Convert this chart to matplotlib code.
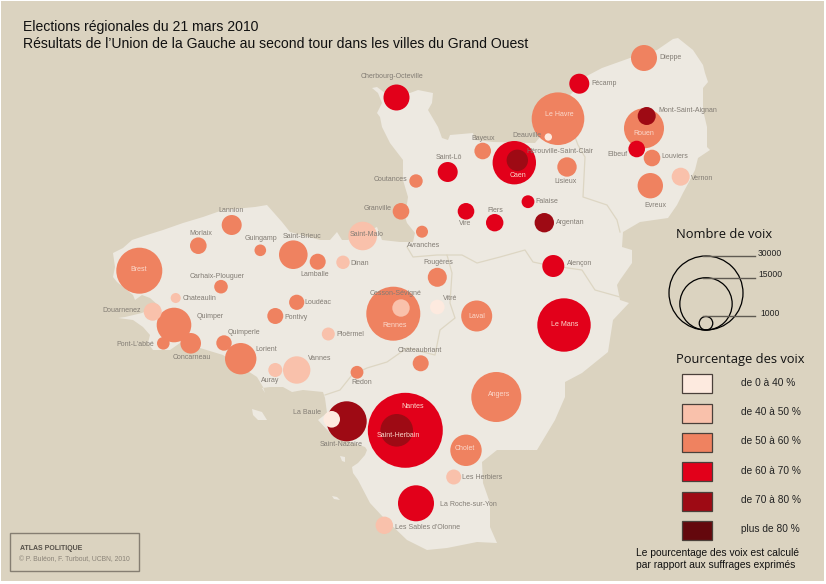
# Elections regionales 2010 - Grand Ouest
import numpy as np
import matplotlib
matplotlib.use('Agg')
import matplotlib.pyplot as plt
from matplotlib.patches import Circle, Polygon, Rectangle

plt.rcParams['font.family'] = ['Liberation Sans', 'DejaVu Sans']

# map coordinates are image pixels
cote_x = [583, 602, 630, 657, 673, 678, 693, 703, 705, 708, 703, 703, 707, 707, 710, 698, 695, 690, 683, 677, 668, 640, 623, 622, 632, 632, 620, 617, 620, 629, 613, 608, 582, 565, 565, 555, 543, 537, 497, 482, 483, 490, 490, 497, 477, 447, 427, 407, 383, 370, 358, 353, 352, 358, 365, 367, 365, 345, 330, 318, 327, 325, 323, 303, 292, 283, 270, 262, 265, 263, 257, 223, 200, 180, 170, 153, 148, 150, 143, 133, 118, 125, 142, 158, 150, 142, 135, 133, 117, 113, 115, 113, 123, 132, 147, 163, 183, 203, 223, 255, 267, 282, 290, 320, 330, 337, 342, 348, 377, 382, 400, 413, 415, 407, 405, 408, 403, 403, 390, 382, 380, 377, 382, 378, 372, 377, 385, 410, 418, 433, 432, 428, 438, 442, 448, 450, 473, 475, 493, 535, 550, 565, 575]
cote_y = [78, 68, 58, 50, 39, 38, 50, 65, 73, 82, 88, 110, 127, 147, 150, 158, 170, 180, 193, 205, 218, 222, 232, 247, 250, 263, 280, 285, 300, 303, 320, 352, 373, 382, 397, 420, 440, 450, 450, 462, 483, 503, 527, 543, 542, 548, 550, 540, 517, 503, 480, 473, 467, 463, 455, 450, 447, 440, 433, 420, 413, 398, 392, 390, 392, 387, 387, 388, 393, 387, 377, 355, 348, 343, 350, 350, 343, 335, 327, 320, 318, 317, 313, 305, 298, 295, 300, 295, 282, 277, 267, 253, 248, 240, 235, 230, 223, 217, 210, 207, 205, 222, 232, 240, 240, 232, 240, 240, 227, 240, 242, 242, 233, 223, 217, 197, 180, 160, 143, 127, 117, 113, 103, 93, 88, 87, 93, 93, 90, 93, 103, 110, 127, 138, 140, 135, 133, 140, 142, 143, 125, 100, 90]
belle_ile_x = [252, 262, 267, 258, 253]
belle_ile_y = [409, 412, 420, 420, 415]
noirmoutier_x = [340, 345, 345, 342]
noirmoutier_y = [456, 457, 462, 461]
yeu_x = [332, 337, 340, 334]
yeu_y = [496, 497, 500, 499]

limite_bretagne_x = [325, 340, 352, 367, 387, 407, 435, 440, 455, 450, 452, 447, 437, 413, 407]
limite_bretagne_y = [395, 390, 375, 368, 362, 348, 355, 330, 318, 303, 273, 255, 255, 257, 247]
limite_loire_x = [447, 462, 477, 500, 525, 533, 547, 582, 595, 620]
limite_loire_y = [255, 255, 263, 257, 250, 262, 265, 270, 290, 297]
limite_normandie_x = [575, 578, 585, 583, 607, 617, 620]
limite_normandie_y = [137, 145, 157, 197, 205, 220, 232]

villes = ["Cherbourg-Octeville", "Dieppe", "Fécamp", "Le Havre", "Deauville", "Rouen", "Mont-Saint-Aignan", "Elbeuf", "Louviers", "Vernon", "Evreux", "Caen", "Hérouville-Saint-Clair", "Bayeux", "Saint-Lô", "Coutances", "Lisieux", "Falaise", "Vire", "Flers", "Argentan", "Granville", "Avranches", "Saint-Malo", "Alençon", "Lannion", "Morlaix", "Guingamp", "Saint-Brieuc", "Lamballe", "Dinan", "Brest", "Carhaix-Plouguer", "Chateaulin", "Douarnenez", "Quimper", "Pont-L'abbé", "Concarneau", "Quimperle", "Lorient", "Auray", "Vannes", "Pontivy", "Loudéac", "Ploërmel", "Redon", "Rennes", "Cesson-Sévigné", "Vitré", "Fougères", "Laval", "Le Mans", "Chateaubriant", "Angers", "Nantes", "Saint-Herbain", "Saint-Nazaire", "La Baule", "Cholet", "Les Herbiers", "La Roche-sur-Yon", "Les Sables d'Olonne"]
ville_x = [396.5, 644, 579.3, 558, 548.3, 644, 646.7, 636.7, 652, 680.7, 650.3, 514.3, 517.3, 482.7, 447.7, 416, 567, 528, 466, 494.7, 544.3, 401, 422, 362.7, 553.3, 231.7, 198.3, 260.3, 293.3, 317.7, 343, 139.3, 221, 175.7, 152.7, 174, 163.3, 190.7, 224, 240.7, 275.3, 296.7, 275.3, 296.7, 328.3, 357, 393.3, 401, 437.3, 437.3, 476.7, 564, 420.7, 496.3, 405.3, 396.7, 346.7, 331.7, 466, 453.7, 416, 384.3]
ville_y = [97.5, 58, 83.7, 118.7, 137, 128.3, 116, 149, 158, 176.7, 185.7, 162.7, 160.3, 151, 172, 181, 167, 201.7, 211.3, 222.7, 222.7, 211.3, 231.7, 236, 266, 225, 245.7, 250.3, 254.7, 261.7, 262.3, 270.7, 286.7, 298, 311.7, 325, 343.3, 343.3, 343, 358.7, 370, 370, 316, 302.3, 334, 372.3, 313.7, 308, 307, 277.3, 316, 325, 363.3, 397, 430.3, 430.3, 421.3, 419.3, 450.3, 477, 503.3, 525.3]
voix = [3700, 3700, 2190, 15160, 300, 8770, 1775, 1510, 1510, 1775, 3530, 10320, 2510, 1510, 2190, 985, 2060, 900, 1510, 1660, 2060, 1510, 790, 4480, 2650, 2190, 1510, 740, 4480, 1400, 985, 11590, 1010, 550, 1775, 6560, 870, 2325, 1300, 5400, 1075, 4110, 1400, 1265, 925, 900, 15975, 1660, 1170, 1980, 5265, 15620, 1400, 13700, 30800, 5820, 8770, 1510, 5400, 1230, 7100, 1660]
# index dans classes_voix
classe = [3, 2, 3, 2, 0, 2, 4, 3, 2, 1, 2, 3, 4, 2, 3, 2, 2, 3, 3, 3, 4, 2, 2, 1, 3, 2, 2, 2, 2, 2, 1, 2, 2, 1, 1, 2, 2, 2, 2, 2, 1, 1, 2, 2, 1, 2, 2, 1, 0, 2, 2, 3, 2, 2, 3, 4, 4, 0, 2, 1, 3, 1]
label_x = [391.7, 670.7, 604, 559.7, 527.3, 644, 688.3, 617, 675, 702, 655, 518.3, 559.7, 483.3, 449, 390.3, 565.7, 547, 465.3, 495, 570, 378, 423.7, 366.3, 580, 231.3, 200.7, 260.7, 302.3, 315, 360, 138.7, 216.7, 200, 122, 210.3, 135.3, 192, 244, 266.3, 270.3, 319.3, 296, 318, 350.3, 362, 395, 396, 450, 438.3, 477.3, 564.3, 419.7, 499, 412.3, 398.3, 340.7, 306.7, 465, 482.3, 468.7, 427.7]
label_y = [77, 57.7, 83.3, 114.7, 135.7, 133.7, 110.3, 154.3, 156.7, 178.7, 205.3, 175.3, 151.7, 138.7, 157.7, 179.7, 181.3, 201.7, 223.7, 210, 222.7, 208.3, 245.3, 234.3, 263.7, 210.7, 233.3, 238.7, 236.3, 274.3, 263.7, 269.3, 276.3, 298, 310.3, 316.7, 344.7, 357.7, 333, 349.7, 380.7, 358.3, 317.3, 302.7, 334.3, 382.7, 325.7, 293.7, 298.3, 262.3, 316, 324.7, 350.3, 394, 406.7, 435.7, 445, 412, 449, 477.7, 504.3, 527.3]
labels_clairs = ["Le Havre", "Rouen", "Caen", "Brest", "Rennes", "Laval", "Le Mans", "Angers", "Nantes", "Saint-Herbain", "Cholet"]

classes_voix = ["de 0 à 40 %", "de 40 à 50 %", "de 50 à 60 %", "de 60 à 70 %", "de 70 à 80 %", "plus de 80 %"]
couleurs = ['#FDEADF', '#F9C1AB', '#EF8260', '#E2001A', '#9E0A14', '#64080D']
legende_voix = [30000, 15000, 1000]

FOND = '#DBD3C0'
TERRE = '#EDE9E1'
LIMITE = '#DDD6C3'
GRIS = '#827C74'


def rayon(v):
    # area of the circle is proportional to the votes, 30000 gives 37 px
    return 37 * np.sqrt(v / 30000)


fig = plt.figure(figsize=(8.26, 5.84), dpi=100, facecolor='white')
ax = fig.add_axes([0, 0, 1, 1])
ax.set_xlim(0, 826)
ax.set_ylim(584, 0)
ax.axis('off')

ax.add_patch(Rectangle((1, 1), 823, 580, fc=FOND, ec='none', zorder=0))

# land and region limits
for px, py in [(cote_x, cote_y), (belle_ile_x, belle_ile_y), (noirmoutier_x, noirmoutier_y), (yeu_x, yeu_y)]:
    ax.add_patch(Polygon(np.column_stack([px, py]), closed=True, fc=TERRE, ec='none', zorder=1))
for px, py in [(limite_bretagne_x, limite_bretagne_y), (limite_loire_x, limite_loire_y), (limite_normandie_x, limite_normandie_y)]:
    ax.plot(px, py, color=LIMITE, lw=0.9, zorder=2)

# big circles first so the small cities stay visible
ordre = np.argsort(voix)[::-1]
for n, i in enumerate(ordre):
    ax.add_patch(Circle((ville_x[i], ville_y[i]), rayon(voix[i]), fc=couleurs[classe[i]], ec='none', zorder=3 + n * 0.01))

for nom, lx, ly in zip(villes, label_x, label_y):
    coul = '#FBD9CC' if nom in labels_clairs else GRIS
    ax.text(lx, ly, nom, fontsize=5.0, color=coul, ha='center', va='center', zorder=5)

# titles
ax.text(23, 27.5, "Elections régionales du 21 mars 2010", fontsize=10.05, color='#111111', va='center')
ax.text(23, 44.5, "Résultats de l’Union de la Gauche au second tour dans les villes du Grand Ouest", fontsize=10.05, color='#111111', va='center')

# legend, circle sizes
ax.text(676, 234, "Nombre de voix", fontsize=9.3, family='Open Sans', color='#111111', va='center')
base_y = 330
for v, lab_x in zip(legende_voix, [758, 758, 760]):
    r = rayon(v)
    ax.add_patch(Circle((706, base_y - r), r, fc='none', ec='black', lw=0.9, zorder=4))
    ax.plot([703, 755], [base_y - 2 * r, base_y - 2 * r], color='#5F5A52', lw=1.0, zorder=4)
    ax.text(lab_x, base_y - 2 * r - 2.7, str(v), fontsize=6.2, color='#222222', va='center', zorder=4)

# legend, vote share
ax.text(676, 360, "Pourcentage des voix", fontsize=9.3, family='Open Sans', color='#111111', va='center')
for i, (lab, coul) in enumerate(zip(classes_voix, couleurs)):
    y = 374.3 + i * 29.3
    ax.add_patch(Rectangle((682, y), 30, 19, fc=coul, ec='#4A403A', lw=0.9, zorder=4))
    ax.text(740.7, y + 8.5, lab, fontsize=7.3, color='#222222', va='center', zorder=4)

ax.text(636, 553, "Le pourcentage des voix est calculé", fontsize=7.4, color='#111111', va='center')
ax.text(636, 565.5, "par rapport aux suffrages exprimés", fontsize=7.4, color='#111111', va='center')

# credits
ax.add_patch(Rectangle((9.5, 533), 129.5, 38, fc='none', ec='#857E72', lw=1.0))
ax.text(20.5, 548, "ATLAS POLITIQUE", fontsize=5.0, fontweight='bold', color='#555049', va='center')
ax.text(19, 559.5, "© P. Buléon, F. Turbout, UCBN, 2010", fontsize=4.9, color='#8A8378', va='center')

fig.savefig('out.png', dpi=100)
